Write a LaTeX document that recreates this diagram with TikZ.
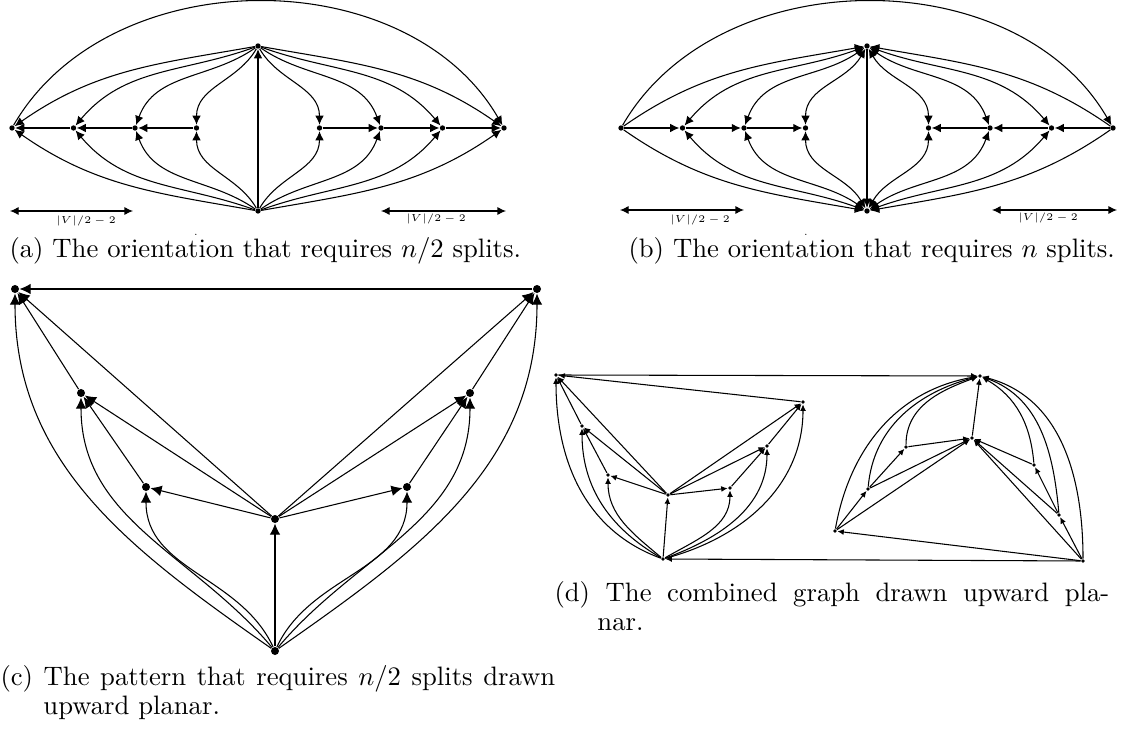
\documentclass[tikz,border=0pt]{standalone}
\usetikzlibrary{arrows.meta}
\usetikzlibrary{positioning}

\begin{document}
\begin{tikzpicture}[x=0.375pt,y=0.375pt,
  vtx/.style={circle,fill=black,inner sep=0pt,minimum size=2pt},
  vtxc/.style={circle,fill=black,inner sep=0pt,minimum size=3pt},
  vtxd/.style={circle,fill=black,inner sep=0pt,minimum size=1.4pt},
  arr/.style={-{Latex[length=3.4pt,width=3.2pt]}},
  arrboth/.style={{Latex[length=3.4pt,width=3.2pt]}-{Latex[length=3.4pt,width=3.2pt]}},
  arrback/.style={{Latex[length=3.4pt,width=3.2pt]}-},
  arrc/.style={-{Latex[length=4.2pt,width=4pt]}},
  arrd/.style={-{Latex[length=2.4pt,width=2.2pt]}},
  widthbar/.style={{Latex[length=3.2pt,width=3pt]}-{Latex[length=3.2pt,width=3pt]}},
  lbl/.style={font=\tiny,inner sep=0pt,scale=0.76,transform shape},
  capt/.style={anchor=base west,inner sep=0pt,font=\fontsize{10}{11}\selectfont}]
\useasboundingbox (0,0) rectangle (1121,731);

% (a) orientation with n/2 splits
\node[vtx] (aT) at (258,685) {};
\node[vtx] (aB) at (258,520) {};
\foreach \i in {1,...,4} {
  \node[vtx] (aL\i) at (258-61.5*\i,603) {};
  \node[vtx] (aR\i) at (258+61.5*\i,603) {};
}
\draw[arr] (aB) -- (aT);
\foreach \i/\j in {1/2,2/3,3/4} {
  \draw[arr] (aL\i) -- (aL\j);
  \draw[arr] (aR\i) -- (aR\j);
}
\foreach \i/\o/\n/\u/\v in {1/240/90/120/-90, 2/215/70/145/-70, 3/200/50/160/-50, 4/190/35/170/-35} {
  \draw[arr] (aT) to[out=\o,in=\n] (aL\i);
  \draw[arr] (aB) to[out=\u,in=\v] (aL\i);
}
\foreach \i/\o/\n/\u/\v in {1/-60/90/60/-90, 2/-35/110/35/-110, 3/-20/130/20/-130, 4/-10/145/10/-145} {
  \draw[arr] (aT) to[out=\o,in=\n] (aR\i);
  \draw[arr] (aB) to[out=\u,in=\v] (aR\i);
}
\draw[arr] (aL4) to[out=60,in=120] (aR4);
\coordinate (aw1) at (10,520);
\coordinate (aw2) at (133,520);
\coordinate (aw3) at (381,520);
\coordinate (aw4) at (506,520);
\draw[widthbar] (aw1) -- (aw2);
\draw[widthbar] (aw3) -- (aw4);
\node[lbl,anchor=north] (awl) at (86,515) {$|V|/2-2$};
\node[lbl,anchor=north] (awr) at (436,517) {$|V|/2-2$};
\node[lbl,anchor=base] (adot) at (196,495) {.};

% (b) orientation with n splits
\node[vtx] (bT) at (867,685) {};
\node[vtx] (bB) at (867,520) {};
\foreach \i in {1,...,4} {
  \node[vtx] (bL\i) at (867-61.5*\i,603) {};
  \node[vtx] (bR\i) at (867+61.5*\i,603) {};
}
\draw[arr] (bT) -- (bB);
\foreach \i/\j in {1/2,2/3,3/4} {
  \draw[arr] (bL\j) -- (bL\i);
  \draw[arr] (bR\j) -- (bR\i);
}
\foreach \i/\o/\n/\u/\v in {1/240/90/120/-90, 2/215/70/145/-70, 3/200/50/160/-50} {
  \draw[arrboth] (bT) to[out=\o,in=\n] (bL\i);
  \draw[arrboth] (bB) to[out=\u,in=\v] (bL\i);
}
\foreach \i/\o/\n/\u/\v in {1/-60/90/60/-90, 2/-35/110/35/-110, 3/-20/130/20/-130} {
  \draw[arrboth] (bT) to[out=\o,in=\n] (bR\i);
  \draw[arrboth] (bB) to[out=\u,in=\v] (bR\i);
}
\draw[arrback] (bT) to[out=190,in=35] (bL4);
\draw[arrback] (bB) to[out=170,in=-35] (bL4);
\draw[arrback] (bT) to[out=-10,in=145] (bR4);
\draw[arrback] (bB) to[out=10,in=-145] (bR4);
\draw[arr] (bL4) to[out=60,in=120] (bR4);
\coordinate (bw1) at (620,521);
\coordinate (bw2) at (744,521);
\coordinate (bw3) at (992,521);
\coordinate (bw4) at (1117,521);
\draw[widthbar] (bw1) -- (bw2);
\draw[widthbar] (bw3) -- (bw4);
\node[lbl,anchor=north] (bwl) at (700,516) {$|V|/2-2$};
\node[lbl,anchor=north] (bwr) at (1048,518) {$|V|/2-2$};
\node[lbl,anchor=base] (bdot) at (806,495) {.};

% (c) pattern drawn upward planar
\node[vtxc] (cTL) at (15,442) {};
\node[vtxc] (cTR) at (537,442) {};
\node[vtxc] (cL2) at (81,338) {};
\node[vtxc] (cR2) at (470,338) {};
\node[vtxc] (cL3) at (146,244) {};
\node[vtxc] (cR3) at (407,244) {};
\node[vtxc] (cC) at (275,212) {};
\node[vtxc] (cB) at (275,80) {};
\draw[arrc] (cTR) -- (cTL);
\draw[arrc] (cB) -- (cC);
\foreach \n in {TL,L2,L3,TR,R2,R3} \draw[arrc] (cC) -- (c\n);
\draw[arrc] (cL3) -- (cL2);
\draw[arrc] (cL2) -- (cTL);
\draw[arrc] (cR3) -- (cR2);
\draw[arrc] (cR2) -- (cTR);
\foreach \n/\o in {TL/145,L2/130,L3/115,TR/35,R2/50,R3/65} \draw[arrc] (cB) to[out=\o,in=-90] (c\n);

% (d) combined graph
\node[vtxd] (d1) at (556,356) {};
\node[vtxd] (d2) at (803,329) {};
\node[vtxd] (d3) at (582,305) {};
\node[vtxd] (d4) at (608,256) {};
\node[vtxd] (d5) at (668,236) {};
\node[vtxd] (d6) at (730,243) {};
\node[vtxd] (d7) at (767,285) {};
\node[vtxd] (d8) at (663,172) {};
\node[vtxd] (e1) at (980,355) {};
\node[vtxd] (e2) at (972,293) {};
\node[vtxd] (e3) at (906,284) {};
\node[vtxd] (e4) at (868,242) {};
\node[vtxd] (e5) at (835,200) {};
\node[vtxd] (e6) at (1034,266) {};
\node[vtxd] (e7) at (1059,216) {};
\node[vtxd] (e8) at (1083,170) {};
\draw[arrd] (d1) -- (e1);
\draw[arrd] (e8) -- (d8);
\draw[arrd] (d2) -- (d1);
\draw[arrd] (d8) -- (d5);
\foreach \n in {1,2,3,4,6,7} \draw[arrd] (d5) -- (d\n);
\draw[arrd] (d4) -- (d3);
\draw[arrd] (d3) -- (d1);
\draw[arrd] (d6) -- (d7);
\draw[arrd] (d7) -- (d2);
\foreach \n/\o in {1/160,3/150,4/140,6/30,7/20,2/15} \draw[arrd] (d8) to[out=\o,in=-90] (d\n);
\draw[arrd] (e2) -- (e1);
\foreach \n in {3,...,8} \draw[arrd] (e\n) -- (e2);
\draw[arrd] (e5) -- (e4);
\draw[arrd] (e4) -- (e3);
\draw[arrd] (e8) -- (e7);
\draw[arrd] (e7) -- (e6);
\draw[arrd] (e8) -- (e5);
\foreach \n/\o/\a in {5/80/190,4/85/195,3/90/200,8/90/-15,7/95/-20,6/95/-30} \draw[arrd] (e\n) to[out=\o,in=\a] (e1);

% captions
\node[capt] (capa) at (9,473) {(a) The orientation that requires $n/2$ splits.};
\node[capt] (capb) at (628,473) {(b) The orientation that requires $n$ splits.};
\node[capt,text width=208pt,align=justify] (capc) at (0,46) {(c) The pattern that requires $n/2$ splits drawn\linebreak\hspace*{16.1pt}upward planar.};
\node[capt,text width=208pt,align=justify] (capd) at (554,130) {(d) The combined graph drawn upward pla-\linebreak\hspace*{16.1pt}nar.};
\end{tikzpicture}
\end{document}
